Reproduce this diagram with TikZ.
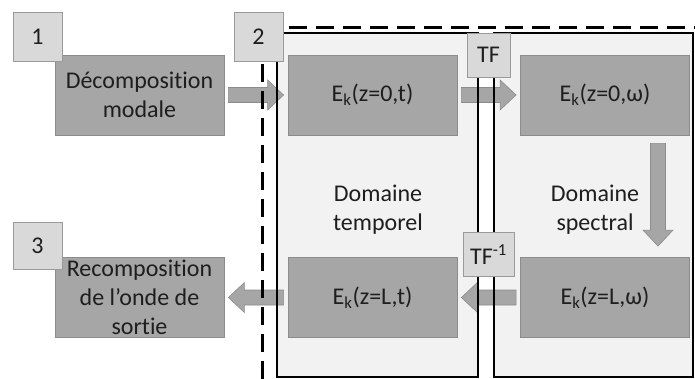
\documentclass[tikz,border=0pt]{standalone}
\usepackage{fontspec}
\setmainfont{Carlito}[Ligatures=NoCommon]
\usetikzlibrary{calc}
\definecolor{boxgray}{HTML}{A6A6A6}
\definecolor{boxedge}{HTML}{8C8C8C}
\definecolor{numgray}{HTML}{D9D9D9}
\definecolor{numedge}{HTML}{9A9A9A}
\definecolor{domgray}{HTML}{F2F2F2}
\definecolor{txtgray}{HTML}{1E1E1E}
\newcommand{\Ek}[1]{E\textsubscript{k}(#1)}

\tikzset{
  every node/.style={font=\fontsize{24}{29}\selectfont, text=txtgray},
  darkbox/.style={draw=boxedge, fill=boxgray, line width=0.8pt, minimum width=169pt, minimum height=80pt, inner sep=0pt, align=center},
  numbox/.style={draw=numedge, fill=numgray, line width=0.8pt, minimum width=49pt, minimum height=49pt, inner sep=0pt},
  tfbox/.style={draw=numedge, fill=numgray, line width=0.8pt, minimum height=44pt, inner sep=2pt},
  dashline/.style={line width=3pt, dash pattern=on 18pt off 9pt},
  barrow/.style={draw=boxedge, fill=boxgray, line width=0.6pt,
    to path={let \p1=($(\tikztostart)!4pt!(\tikztotarget)$), \p2=($(\tikztotarget)!4pt!(\tikztostart)$),
      \n1={atan2(\y2-\y1,\x2-\x1)} in
      ($(\p1)+(\n1-90:7.5pt)$) -- ($(\p2)+(\n1+180:16pt)+(\n1-90:7.5pt)$)
      -- ($(\p2)+(\n1+180:16pt)+(\n1-90:15pt)$) -- (\p2)
      -- ($(\p2)+(\n1+180:16pt)+(\n1+90:15pt)$) -- ($(\p2)+(\n1+180:16pt)+(\n1+90:7.5pt)$)
      -- ($(\p1)+(\n1+90:7.5pt)$) -- cycle}}
}

\begin{document}
\begin{tikzpicture}[x=1pt,y=-1pt]
  \useasboundingbox (0,0) rectangle (695,379);
  % domaines
  \fill[domgray] (277,33) rectangle (478,377);
  \fill[domgray] (494,33) rectangle (693,377);
  \node at (378,210) [align=center] (temp) {Domaine\\temporel};
  \node at (595,210) [align=center] (spec) {Domaine\\spectral};

  \node[darkbox] (dec) at (139.5,95) {Décomposition\\modale};
  \node[darkbox] (ek0t) at (372.5,95) {\Ek{z=0,t}};
  \node[darkbox] (ek0w) at (605,95) {\Ek{z=0,ω}};
  \node[darkbox] (ekLw) at (605,297.5) {\Ek{z=L,ω}};
  \node[darkbox] (ekLt) at (372.5,297.5) {\Ek{z=L,t}};
  \node[darkbox] (rec) at (139.5,297.5) {Recomposition\\de l’onde de\\sortie};

  \draw[barrow] (dec.east) to (ek0t.west);
  \draw[barrow] (ek0t.east) to (ek0w.west);
  \draw[barrow] ([shift={(53,4)}]ek0w.south) to ([shift={(53,-7)}]ekLw.north);
  \draw[barrow] (ekLw.west) to (ekLt.east);
  \draw[barrow] (ekLt.west) to (rec.east);

  \draw[line width=1.5pt] (277,33) rectangle (478,377);
  \draw[line width=1.5pt] (494,33) rectangle (693,377);
  \draw[dashline] (262,379) -- (262,28) -- (695,28);

  \node[tfbox, minimum width=43pt] (tf) at (488.5,55) {TF};
  \node[tfbox, minimum width=51pt] (tfinv) at (488.5,254.5) {TF\textsuperscript{-1}};

  \node[numbox] (n1) at (37.5,36.5) {1};
  \node[numbox] (n2) at (258.5,36.5) {2};
  \node[numbox, minimum height=47pt] (n3) at (37.5,245.5) {3};
\end{tikzpicture}
\end{document}
